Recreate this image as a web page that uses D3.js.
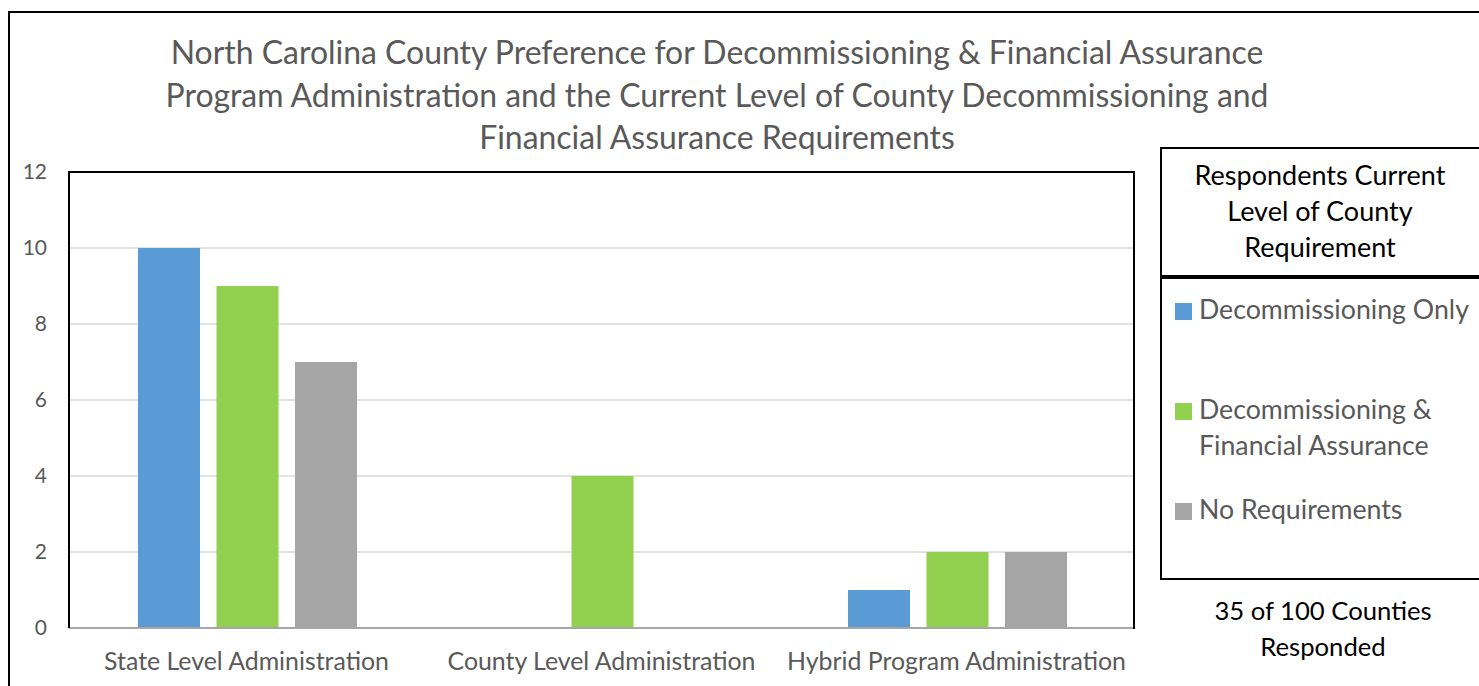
<!DOCTYPE html>
<html><head><meta charset="utf-8">
<script src="https://cdn.jsdelivr.net/npm/d3@7"></script>
<style>body{margin:0;background:#fff}svg{display:block}text{font-family:Lato,"Open Sans",sans-serif}</style>
</head><body>
<script>
const categories = ["State Level Administration","County Level Administration","Hybrid Program Administration"];
const seriesNames = ["Decommissioning Only","Decommissioning & Financial Assurance","No Requirements"];
const decommOnly = [10,0,1];
const decommFin = [9,4,2];
const noReq = [7,0,2];
const yTicks = [0,2,4,6,8,10,12];
const titleLines = ["North Carolina County Preference for Decommissioning & Financial Assurance","Program Administration and the Current Level of County Decommissioning and","Financial Assurance Requirements"];
const legendTitle = ["Respondents Current","Level of County","Requirement"];
const noteLines = ["35 of 100 Counties","Responded"];
const colors = ["#5B9BD5","#92D050","#A5A5A5"];
const series = [decommOnly, decommFin, noReq];

const W=1479,H=686;
const svg=d3.select("body").append("svg").attr("width",W).attr("height",H);

function fit(sel, target){
  const n=sel.node(); const fs=parseFloat(sel.attr("font-size"));
  const w=n.getComputedTextLength(); if(w>0) sel.attr("font-size",fs*target/w);
  return +sel.attr("font-size");
}

// outer border
svg.append("rect").attr("x",9).attr("y",12).attr("width",W+10).attr("height",H+10)
  .attr("fill","none").attr("stroke","#000").attr("stroke-width",2);

// title
const t0=svg.append("text").attr("font-size",28).text(titleLines[0]);
const tfs=fit(t0,1093); t0.remove();
titleLines.forEach((l,i)=>{
  svg.append("text").attr("x",717).attr("y",64+i*42.5).attr("text-anchor","middle")
    .attr("font-size",tfs).attr("fill","#595959").text(l);
});

const L=69,R=1134,T=172,B=628;
const x=d3.scaleBand().domain(categories).range([L,R]);
const y=d3.scaleLinear().domain([0,12]).range([B,T]);
const x1=d3.scaleBand().domain(d3.range(3)).range([69,288]).paddingInner(0.21);

// gridlines
svg.append("g").selectAll("line").data(yTicks.filter(d=>d>0&&d<12)).join("line")
  .attr("x1",L).attr("x2",R).attr("y1",d=>y(d)).attr("y2",d=>y(d))
  .attr("stroke","#d9d9d9").attr("stroke-width",1.5);

// bars
series.forEach((s,si)=>{
  svg.append("g").selectAll("rect").data(s).join("rect")
    .attr("x",(d,i)=>x(categories[i])+x1(si)).attr("width",x1.bandwidth())
    .attr("y",d=>y(d)).attr("height",d=>B-y(d)).attr("fill",colors[si]);
});

// y axis labels
const ya=svg.append("g").attr("transform",`translate(${L},0)`).call(d3.axisLeft(y).tickValues(yTicks).tickSize(0).tickPadding(22));
ya.select(".domain").remove();
ya.selectAll("text").attr("font-size",21).attr("fill","#595959").attr("font-family","Lato,sans-serif");

// x axis labels
const xa=svg.append("g").attr("transform",`translate(0,${B})`).call(d3.axisBottom(x).tickSize(0).tickPadding(24));
xa.select(".domain").remove();
xa.selectAll("text").attr("font-size",22).attr("fill","#595959").attr("font-family","Lato,sans-serif");
const cfs = (function(){const n=xa.select("text"); const w=n.node().getComputedTextLength(); return 22*285/w;})();
xa.selectAll("text").attr("font-size",cfs);

// zero line
svg.append("line").attr("x1",L).attr("x2",R).attr("y1",B).attr("y2",B).attr("stroke","#a6a6a6").attr("stroke-width",2);
// plot frame (left, top, right)
svg.append("path").attr("d",`M${L},${B}V${T}H${R}V${B+1}`).attr("fill","none").attr("stroke","#000").attr("stroke-width",2);

// legend title box
svg.append("rect").attr("x",1161).attr("y",148).attr("width",330).attr("height",128).attr("fill","#fff").attr("stroke","#000").attr("stroke-width",2);
const lt=svg.append("text").attr("font-size",24).text(legendTitle[0]);
const lfs=fit(lt,251); lt.remove();
legendTitle.forEach((l,i)=>svg.append("text").attr("x",1320).attr("y",185+i*36).attr("text-anchor","middle").attr("font-size",lfs).attr("fill","#000").text(l));

// legend items box
svg.append("rect").attr("x",1161).attr("y",278).attr("width",330).attr("height",301).attr("fill","#fff").attr("stroke","#000").attr("stroke-width",2);
const li=svg.append("text").attr("font-size",24).text(seriesNames[0]);
const ifs=fit(li,270); li.remove();
const itemLines=[[seriesNames[0]],["Decommissioning &","Financial Assurance"],[seriesNames[2]]];
const itemY=[311,411,511];
itemLines.forEach((lines,i)=>{
  svg.append("rect").attr("x",1175).attr("y",itemY[i]-8).attr("width",17).attr("height",17).attr("fill",colors[i]);
  lines.forEach((l,j)=>svg.append("text").attr("x",1199).attr("y",itemY[i]+8+j*36).attr("font-size",ifs).attr("fill","#595959").text(l));
});

// note
noteLines.forEach((l,i)=>svg.append("text").attr("x",1323).attr("y",620+i*36).attr("text-anchor","middle").attr("font-size",lfs*0.95).attr("fill","#000").text(l));
</script>
</body></html>
